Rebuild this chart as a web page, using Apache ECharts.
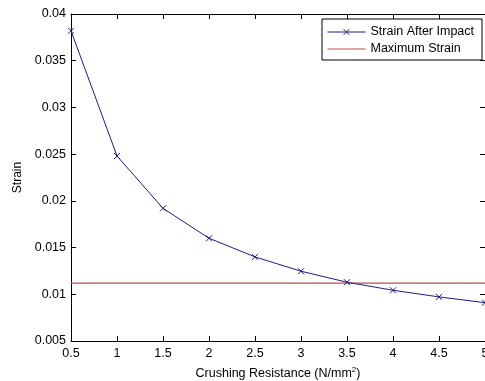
<!DOCTYPE html>
<html>
<head>
<meta charset="utf-8">
<script src="https://cdn.jsdelivr.net/npm/echarts@6/dist/echarts.min.js"></script>
<style>html,body{margin:0;padding:0;background:#fff}#c{width:485px;height:381px}</style>
</head>
<body>
<div id="c"></div>
<script>
var xValues = [0.5, 1, 1.5, 2, 2.5, 3, 3.5, 4, 4.5, 5];
var strainAfterImpact = [0.0382, 0.0248, 0.0192, 0.0160, 0.0140, 0.01247, 0.01129, 0.01043, 0.00972, 0.0091];
var maxStrain = 0.0112;
var yTickLabels = ['0.005', '0.01', '0.015', '0.02', '0.025', '0.03', '0.035', '0.04'];
var xTickLabels = ['0.5', '1', '1.5', '2', '2.5', '3', '3.5', '4', '4.5', '5'];

var font = "'Liberation Sans', Arial, sans-serif";
var chart = echarts.init(document.getElementById('c'), null, {renderer: 'canvas'});

function fmtY(v) {
  var i = Math.round(v / 0.005) - 1;
  return yTickLabels[i] !== undefined ? yTickLabels[i] : '';
}
function fmtX(v) {
  var i = Math.round(v / 0.5) - 1;
  return xTickLabels[i] !== undefined ? xTickLabels[i] : '';
}

var axisCommonX = {
  type: 'value', min: 0.5, max: 5, interval: 0.5,
  axisLine: {show: true, onZero: false, lineStyle: {color: '#000', width: 1}},
  axisTick: {show: true, inside: true, length: 5, lineStyle: {color: '#000'}},
  splitLine: {show: false}
};
var axisCommonY = {
  type: 'value', min: 0.005, max: 0.04, interval: 0.005,
  axisLine: {show: true, onZero: false, lineStyle: {color: '#000', width: 1}},
  axisTick: {show: true, inside: true, length: 5, lineStyle: {color: '#000'}},
  splitLine: {show: false}
};

var xSym = 'path://M0,0L10,10M10,0L0,10';
var emptySym = 'path://M0,0L1,1';

chart.setOption({
  animation: false,
  backgroundColor: '#fff',
  grid: {left: 71, right: 0, top: 14, bottom: 40, containLabel: false, outerBoundsMode: 'none'},
  legend: {
    orient: 'vertical',
    left: 322, top: 19,
    padding: [6, 8, 4, 5],
    itemWidth: 38, itemHeight: 7, itemGap: 3,
    borderColor: '#000', borderWidth: 1,
    backgroundColor: '#fff',
    lineStyle: {width: 1},
    itemStyle: {borderWidth: 1},
    textStyle: {fontFamily: font, fontSize: 12.5, color: '#000', lineHeight: 14},
    data: ['Strain After Impact', 'Maximum Strain']
  },
  xAxis: [
    Object.assign({}, axisCommonX, {
      position: 'bottom',
      name: '{a|Crushing Resistance (N/mm}{b|2}{a|)}',
      nameLocation: 'middle', nameGap: 25,
      nameTextStyle: {rich: {
        a: {fontFamily: font, fontSize: 12.5, color: '#000'},
        b: {fontFamily: font, fontSize: 8, color: '#000', padding: [0, 0, 8, 0]}
      }},
      axisLabel: {fontFamily: font, fontSize: 12.5, color: '#000', margin: 6, formatter: fmtX}
    }),
    Object.assign({}, axisCommonX, {position: 'top', axisLabel: {show: false}})
  ],
  yAxis: [
    Object.assign({}, axisCommonY, {
      position: 'left',
      name: 'Strain', nameLocation: 'middle', nameGap: 38,
      nameTextStyle: {fontFamily: font, fontSize: 12, color: '#000'},
      axisLabel: {fontFamily: font, fontSize: 12.5, color: '#000', margin: 5, formatter: fmtY}
    }),
    Object.assign({}, axisCommonY, {position: 'right', axisLabel: {show: false}})
  ],
  series: [
    {
      name: 'Strain After Impact', type: 'line',
      data: xValues.map(function (x, i) { return [x, strainAfterImpact[i]]; }),
      symbol: xSym, symbolSize: 6,
      showAllSymbol: true,
      lineStyle: {color: '#1c1c8c', width: 1},
      itemStyle: {color: '#1c1c8c', borderColor: '#1c1c8c', borderWidth: 1},
      z: 3
    },
    {
      name: 'Maximum Strain', type: 'line',
      data: [[xValues[0], maxStrain], [xValues[xValues.length - 1], maxStrain]],
      symbol: emptySym, showSymbol: false,
      lineStyle: {color: '#cc4a4a', width: 1.2},
      itemStyle: {color: 'rgba(0,0,0,0)', borderColor: 'rgba(0,0,0,0)', borderWidth: 0},
      z: 2
    }
  ]
});
</script>
</body>
</html>
